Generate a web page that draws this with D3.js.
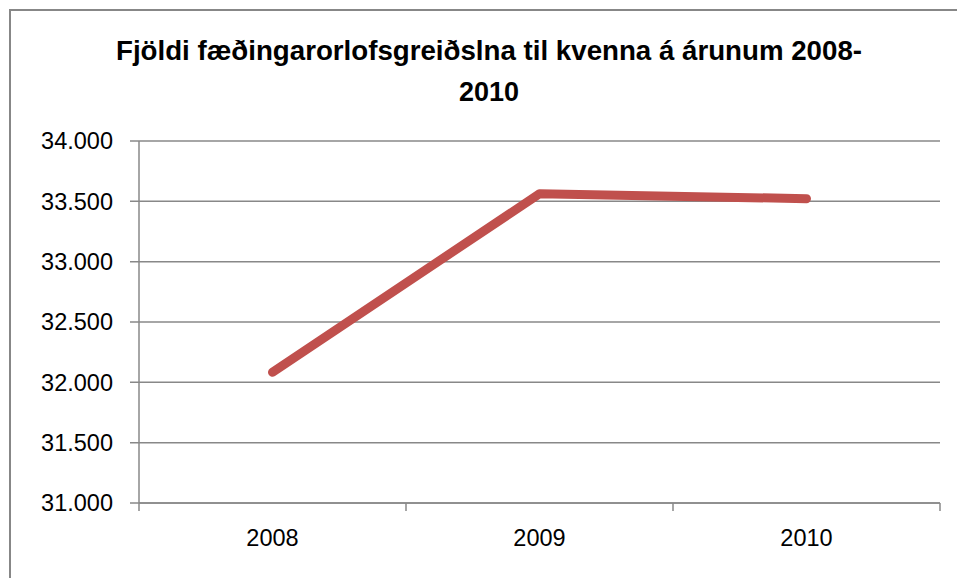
<!DOCTYPE html>
<html>
<head>
<script src="https://d3js.org/d3.v7.min.js"></script>
<style>
  body { margin: 0; background: #fff; }
  text { font-family: "Liberation Sans", Arial, sans-serif; fill: #000; }
</style>
</head>
<body>
<svg width="957" height="578"></svg>
<script>

const years = ["2008", "2009", "2010"];
const payments = [32083, 33563, 33522];
const yTicks = [31000, 31500, 32000, 32500, 33000, 33500, 34000];
const titleLines = ["Fjöldi fæðingarorlofsgreiðslna til kvenna á árunum 2008-", "2010"];

var svg = d3.select("svg"),
    margin = {top: 141, right: 17, bottom: 75, left: 139},
    width = +svg.attr("width") - margin.left - margin.right,
    height = +svg.attr("height") - margin.top - margin.bottom;

// chart frame (runs off the right and bottom edges)
svg.append("rect")
    .attr("x", 10).attr("y", 10)
    .attr("width", 960).attr("height", 600)
    .attr("fill", "none")
    .attr("stroke", "#878787")
    .attr("stroke-width", 2);

svg.selectAll(".title")
    .data(titleLines)
  .enter().append("text")
    .attr("class", "title")
    .attr("x", 489)
    .attr("y", function(d, i) { return 60 + i * 41; })
    .attr("text-anchor", "middle")
    .style("font-weight", "bold")
    .style("font-size", "27px")
    .each(function(d, i) {
      d3.select(this).text(d);
      if (i === 0) d3.select(this).attr("textLength", 746).attr("lengthAdjust", "spacingAndGlyphs");
    });

var g = svg.append("g").attr("transform", "translate(" + margin.left + "," + margin.top + ")");

var x = d3.scaleBand().domain(years).range([0, width]);
var y = d3.scaleLinear().domain([31000, 34000]).range([height, 0]);

var fmt = function(d) { return d3.format(",")(d).replace(/,/g, "."); };

// gridlines + y ticks
g.selectAll(".grid")
    .data(yTicks)
  .enter().append("line")
    .attr("class", "grid")
    .attr("x1", -9).attr("x2", width)
    .attr("y1", function(d) { return y(d); })
    .attr("y2", function(d) { return y(d); })
    .attr("stroke", "#888")
    .attr("stroke-width", 1.5);

g.selectAll(".ylab")
    .data(yTicks)
  .enter().append("text")
    .attr("class", "ylab")
    .attr("x", -26)
    .attr("y", function(d) { return y(d); })
    .attr("dy", "0.36em")
    .attr("text-anchor", "end")
    .style("font-size", "23.5px")
    .text(fmt);

// y axis line
g.append("line")
    .attr("x1", 0).attr("x2", 0)
    .attr("y1", 0).attr("y2", height)
    .attr("stroke", "#888").attr("stroke-width", 1.5);

// x axis
var xTickPos = years.map(function(d) { return x(d); }).concat([width]);
g.append("line")
    .attr("x1", 0).attr("x2", width)
    .attr("y1", height).attr("y2", height)
    .attr("stroke", "#888").attr("stroke-width", 1.5);

g.selectAll(".xtick")
    .data(xTickPos)
  .enter().append("line")
    .attr("x1", function(d) { return d; }).attr("x2", function(d) { return d; })
    .attr("y1", height).attr("y2", height + 8)
    .attr("stroke", "#888").attr("stroke-width", 1.5);

g.selectAll(".xlab")
    .data(years)
  .enter().append("text")
    .attr("x", function(d) { return x(d) + x.bandwidth() / 2; })
    .attr("y", height + 43)
    .attr("text-anchor", "middle")
    .style("font-size", "23.5px")
    .text(function(d) { return d; });

var line = d3.line()
    .x(function(d, i) { return x(years[i]) + x.bandwidth() / 2; })
    .y(function(d) { return y(d); });

g.append("path")
    .datum(payments)
    .attr("d", line)
    .attr("fill", "none")
    .attr("stroke", "#c0504d")
    .attr("stroke-width", 9)
    .attr("stroke-linecap", "round")
    .attr("stroke-linejoin", "round");

</script>
</body>
</html>
